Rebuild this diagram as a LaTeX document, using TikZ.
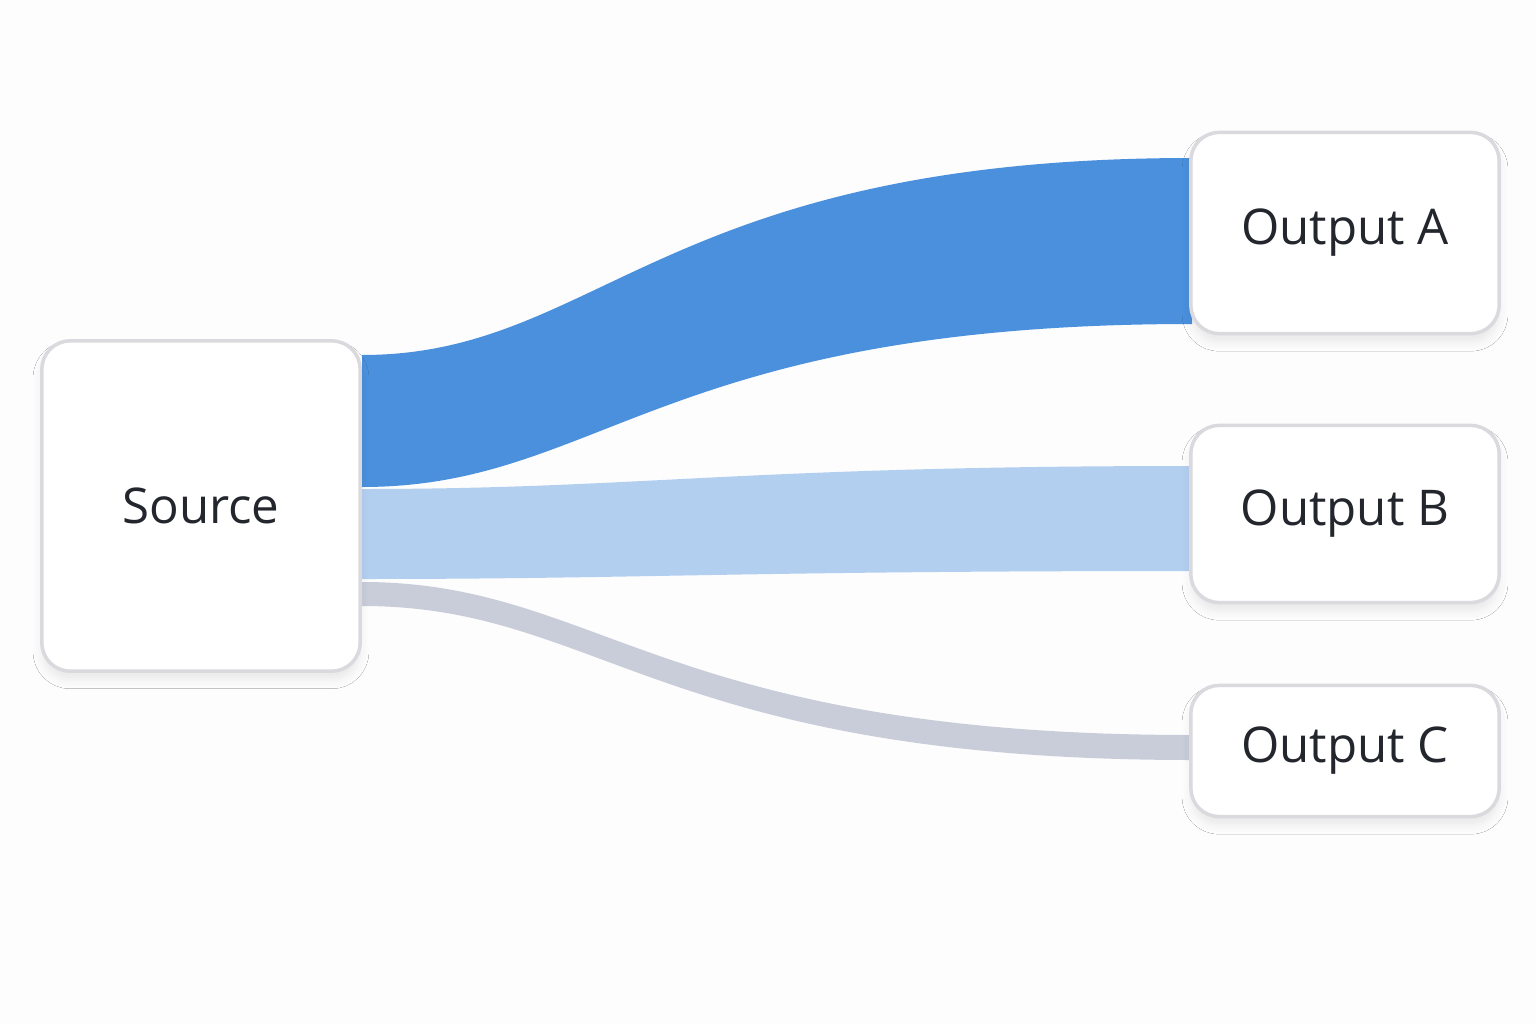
\documentclass[tikz,border=0pt]{standalone}
\usepackage{fontspec}
\setmainfont{Open Sans}
\usepackage{xcolor}
\usepackage{tikz}
\usetikzlibrary{shadows.blur}
\definecolor{flowA}{HTML}{4A90DD}
\definecolor{flowB}{HTML}{B3CFF0}
\definecolor{flowC}{HTML}{C9CDDA}
\definecolor{boxline}{HTML}{DADADE}
\definecolor{labeltext}{HTML}{23262C}
\definecolor{bgcol}{HTML}{FDFDFD}
\tikzset{
box/.style={draw=boxline, line width=1pt, fill=white, rounded corners=8pt,
  blur shadow={shadow xshift=0pt, shadow yshift=-2.5pt, shadow blur radius=2.5pt, shadow opacity=8},
  font=\fontsize{14}{17}\selectfont, text=labeltext, inner sep=0pt}
}
\begin{document}
\begin{tikzpicture}[x=0.01cm, y=-0.01cm]
\fill[bgcol] (0,0) rectangle (1536,1024);
\useasboundingbox (0,0) rectangle (1536,1024);
% flow ends
\draw (362,355) coordinate (sa1);
\draw (362,487) coordinate (sa2);
\draw (362,489) coordinate (sb1);
\draw (362,579) coordinate (sb2);
\draw (362,582) coordinate (sc1);
\draw (362,606) coordinate (sc2);
\draw (1192,158) coordinate (ta1);
\draw (1192,324) coordinate (ta2);
\draw (1192,466) coordinate (tb1);
\draw (1192,571) coordinate (tb2);
\draw (1192,735) coordinate (tc1);
\draw (1192,760) coordinate (tc2);
% flows
\fill[flowA] (sa1) .. controls (600,355) and (660,158) .. (ta1)
  -- (ta2) .. controls (660,324) and (600,487) .. (sa2) -- cycle;
\fill[flowB] (sb1) .. controls (640,489) and (740,466) .. (tb1)
  -- (tb2) .. controls (740,571) and (640,579) .. (sb2) -- cycle;
\fill[flowC] (sc1) .. controls (600,582) and (660,735) .. (tc1)
  -- (tc2) .. controls (660,760) and (600,606) .. (sc2) -- cycle;
% boxes
\node[box, minimum width=3.18cm, minimum height=3.30cm] (src) at (201,506) {Source};
\node[box, minimum width=3.08cm, minimum height=2.01cm] (outA) at (1345,233) {Output A};
\node[box, minimum width=3.08cm, minimum height=1.77cm] (outB) at (1345,514) {Output B};
\node[box, minimum width=3.08cm, minimum height=1.31cm] (outC) at (1345,751) {Output C};
\end{tikzpicture}
\end{document}
